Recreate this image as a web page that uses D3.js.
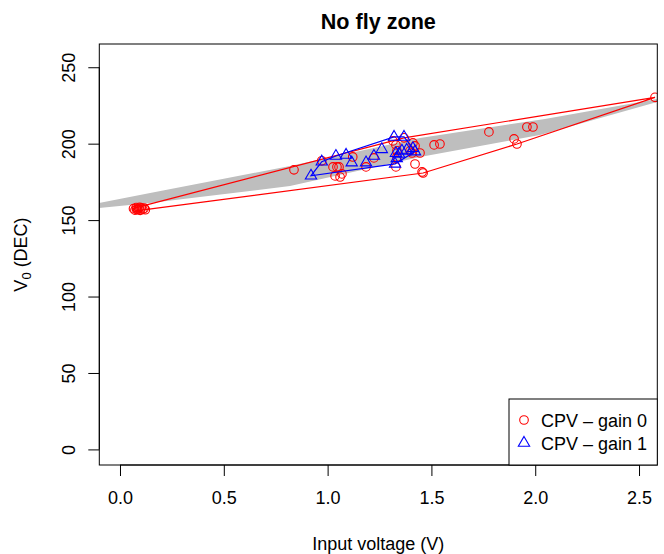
<!DOCTYPE html>
<html>
<head>
<meta charset="utf-8">
<script src="https://cdn.jsdelivr.net/npm/d3@7"></script>
<style>
  html, body { margin: 0; padding: 0; background: #ffffff; }
  svg { display: block; }
  text { font-family: "Liberation Sans", Arial, Helvetica, sans-serif; }
</style>
</head>
<body>
<div id="chart"></div>
<script>
// ---------------- data ----------------
const title = "No fly zone";
const xLabel = "Input voltage (V)";
const seriesNames = ["CPV \u2013 gain 0", "CPV \u2013 gain 1"];
const xTicks = [0, 0.5, 1.0, 1.5, 2.0, 2.5];
const yTicks = [0, 50, 100, 150, 200, 250];

// CPV - gain 0 (red circles): [input voltage, V0]
const gain0 = [
  [0.065,157.5],[0.072,156.5],[0.078,158.2],[0.085,156.8],[0.090,157.6],[0.097,156.4],
  [0.103,158.0],[0.110,157.0],[0.117,157.8],[0.122,156.8],[0.080,157.0],[0.095,158.4],
  [0.838,182.9],[0.972,188.8],[1.026,184.8],[1.045,184.8],[1.055,184.8],[1.036,178.9],
  [1.060,178.2],[1.069,180.2],[1.121,191.3],[1.185,184.8],[1.223,190.7],[1.315,201.8],
  [1.368,203.8],[1.329,199.2],[1.334,195.3],[1.334,191.3],[1.329,184.8],[1.397,195.3],
  [1.411,200.5],[1.421,198.5],[1.407,193.9],[1.421,186.7],[1.445,193.9],[1.455,181.5],
  [1.460,180.8],[1.513,199.2],[1.541,199.8],[1.777,207.7],[1.898,203.1],[1.912,199.8],
  [1.960,210.9],[1.989,210.9],[2.577,230.3]
];

// CPV - gain 1 (blue triangles)
const gain1 = [
  [0.920,179.0],[0.972,188.2],[1.040,191.9],[1.089,192.6],[1.116,187.6],[1.185,187.6],
  [1.223,191.9],[1.261,196.3],[1.320,204.4],[1.368,204.4],[1.329,193.7],[1.344,193.3],
  [1.333,190.4],[1.381,195.9],[1.411,197.0],[1.421,194.8],[1.325,186.8],[1.358,195.3]
];

// grey "no fly zone" band edges
const bandUpper = [[-0.101,161.2],[0.145,167.7],[0.819,185.4],[1.445,203.7],[2.047,216.2],[2.587,229.3]];
const bandLower = [[-0.101,157.9],[0.145,161.2],[0.819,172.3],[1.445,191.3],[2.023,205.7],[2.587,227.3]];

// ---------------- layout ----------------
const W = 664, H = 554;
const plot = { left: 99.3, right: 657.3, top: 44, bottom: 465 };
const red = "#FF0000", blue = "#0000FF";

const svg = d3.select("#chart").append("svg").attr("width", W).attr("height", H);

const x = d3.scaleLinear().domain([-0.0997, 2.588]).range([plot.left, plot.right]);
const y = d3.scaleLinear().domain([-10.2, 265.2]).range([plot.bottom, plot.top]);

svg.append("defs").append("clipPath").attr("id", "clip")
  .append("rect").attr("x", plot.left).attr("y", plot.top)
  .attr("width", plot.right - plot.left).attr("height", plot.bottom - plot.top);

const g = svg.append("g").attr("clip-path", "url(#clip)");

// band
const bandPoly = bandUpper.concat(bandLower.slice().reverse());
g.append("path")
  .attr("d", "M" + bandPoly.map(d => [x(d[0]), y(d[1])].join(",")).join("L") + "Z")
  .attr("fill", "#BEBEBE").attr("stroke", "none");

// triangle path (R pch 2)
function triPath(cx, cy, s) {
  const r = 1.555 * s, hw = 1.347 * s, yc = 0.778 * s;
  return `M${cx},${cy - r}L${cx + hw},${cy + yc}L${cx - hw},${cy + yc}Z`;
}

// red points
g.selectAll("circle.g0").data(gain0).enter().append("circle")
  .attr("cx", d => x(d[0])).attr("cy", d => y(d[1])).attr("r", 4.3)
  .attr("fill", "none").attr("stroke", red).attr("stroke-width", 1.1);

// red hull
const hull0 = d3.polygonHull(gain0.map(d => [x(d[0]), y(d[1])]));
g.append("path").attr("d", "M" + hull0.join("L") + "Z")
  .attr("fill", "none").attr("stroke", red).attr("stroke-width", 1.2);

// blue points
g.selectAll("path.g1").data(gain1).enter().append("path")
  .attr("d", d => triPath(x(d[0]), y(d[1]), 4.2))
  .attr("fill", "none").attr("stroke", blue).attr("stroke-width", 1.1);

// blue hull
const hull1 = d3.polygonHull(gain1.map(d => [x(d[0]), y(d[1])]));
g.append("path").attr("d", "M" + hull1.join("L") + "Z")
  .attr("fill", "none").attr("stroke", blue).attr("stroke-width", 1.2);

// box
svg.append("rect").attr("x", plot.left).attr("y", plot.top)
  .attr("width", plot.right - plot.left).attr("height", plot.bottom - plot.top)
  .attr("fill", "none").attr("stroke", "#000").attr("stroke-width", 1);

// x axis
const xAxis = svg.append("g").attr("transform", `translate(0,${plot.bottom})`)
  .call(d3.axisBottom(x).tickValues(xTicks).tickFormat(d3.format(".1f")).tickSize(11).tickSizeOuter(0));
xAxis.select(".domain").attr("stroke", "#000").attr("d", `M${x(xTicks[0])},0H${x(xTicks[xTicks.length-1])}`);
xAxis.selectAll(".tick line").attr("stroke", "#000");
xAxis.selectAll(".tick text").attr("y", 39).attr("dy", 0)
  .attr("fill", "#000").style("font-size", "18px").style("font-family", '"Liberation Sans", Arial, sans-serif');

// y axis
const yAxis = svg.append("g").attr("transform", `translate(${plot.left},0)`)
  .call(d3.axisLeft(y).tickValues(yTicks).tickSize(11).tickSizeOuter(0));
yAxis.select(".domain").attr("stroke", "#000").attr("d", `M0,${y(yTicks[0])}V${y(yTicks[yTicks.length-1])}`);
yAxis.selectAll(".tick line").attr("stroke", "#000");
yAxis.selectAll(".tick text").attr("x", 0).attr("y", -24).attr("dy", 0)
  .attr("transform", "rotate(-90)").attr("text-anchor", "middle")
  .attr("fill", "#000").style("font-size", "18px").style("font-family", '"Liberation Sans", Arial, sans-serif');

// title
svg.append("text").attr("x", (plot.left + plot.right) / 2).attr("y", 29)
  .attr("text-anchor", "middle").style("font-size", "21.6px").style("font-weight", "bold")
  .text(title);

// x label
svg.append("text").attr("x", (plot.left + plot.right) / 2).attr("y", 550)
  .attr("text-anchor", "middle").style("font-size", "18px").text(xLabel);

// y label with subscript
const yl = svg.append("text")
  .attr("transform", `translate(27,${(plot.top + plot.bottom) / 2}) rotate(-90)`)
  .attr("text-anchor", "middle").style("font-size", "18px");
yl.append("tspan").text("V");
yl.append("tspan").attr("dy", 4).style("font-size", "13px").text("0");
yl.append("tspan").attr("dy", -4).text(" (DEC)");

// legend
const lg = { left: 509, top: 399 };
svg.append("rect").attr("x", lg.left).attr("y", lg.top)
  .attr("width", plot.right - lg.left).attr("height", plot.bottom - lg.top)
  .attr("fill", "#fff").attr("stroke", "#000").attr("stroke-width", 1);
const legRows = [420, 443];
svg.append("circle").attr("cx", 524).attr("cy", legRows[0]).attr("r", 4.3)
  .attr("fill", "none").attr("stroke", red).attr("stroke-width", 1.1);
svg.append("path").attr("d", triPath(524, legRows[1], 4.2))
  .attr("fill", "none").attr("stroke", blue).attr("stroke-width", 1.1);
seriesNames.forEach((s, i) => {
  svg.append("text").attr("x", 541).attr("y", legRows[i] + 6.5)
    .style("font-size", "18px").text(s);
});
</script>
</body>
</html>
